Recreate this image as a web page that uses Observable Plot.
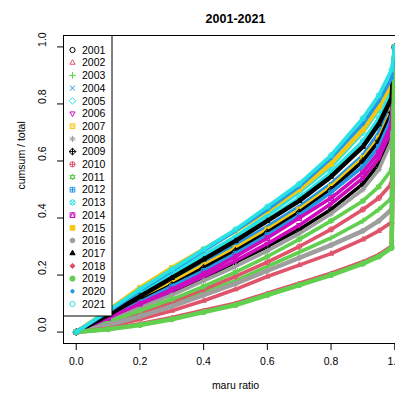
<!DOCTYPE html>
<html><head><meta charset="utf-8">
<script src="https://cdn.jsdelivr.net/npm/d3@7"></script>
<script src="https://cdn.jsdelivr.net/npm/@observablehq/plot@0.6"></script>
<style>
html,body{margin:0;padding:0;background:#fff;overflow:hidden;width:395px;height:395px}
#wrap{position:relative;width:395px;height:395px;overflow:hidden}
#wrap svg{display:block;max-width:none !important}
#legend{position:absolute;left:0;top:0;pointer-events:none}
</style></head><body><div id="wrap"></div>
<script>
// ---- data ----
const titleText = "2001-2021";
const xLabel = "maru ratio";
const yLabel = "cumsum / total";
const xTicks = [0, 0.2, 0.4, 0.6, 0.8, 1.0];
const xTickLabels = ["0.0", "0.2", "0.4", "0.6", "0.8", "1.0"];
const yTicks = [0, 0.2, 0.4, 0.6, 0.8, 1.0];
const yTickLabels = ["0.0", "0.2", "0.4", "0.6", "0.8", "1.0"];
const years = [2001,2002,2003,2004,2005,2006,2007,2008,2009,2010,2011,2012,2013,2014,2015,2016,2017,2018,2019,2020,2021];
const xGrid = [0, 0.1, 0.2, 0.3, 0.4, 0.5, 0.6, 0.7, 0.8, 0.9, 0.95, 0.99, 1.0];
const y2001 = [0, .045, .09, .14, .19, .245, .30, .36, .43, .52, .59, .69, 1];
const y2002 = [0, .02, .045, .075, .11, .15, .195, .235, .275, .325, .355, .385, 1];
const y2003 = [0, .03, .06, .10, .14, .18, .23, .28, .33, .39, .43, .47, 1];
const y2004 = [0, .06, .12, .18, .24, .305, .37, .44, .52, .62, .70, .80, 1];
const y2005 = [0, .07, .14, .205, .27, .335, .41, .49, .58, .70, .78, .86, 1];
const y2006 = [0, .045, .095, .145, .195, .25, .31, .375, .45, .54, .61, .71, 1];
const y2007 = [0, .055, .115, .175, .235, .295, .36, .43, .51, .61, .68, .78, 1];
const y2008 = [0, .04, .085, .13, .18, .23, .285, .345, .415, .50, .57, .67, 1];
const y2009 = [0, .055, .11, .165, .225, .285, .35, .42, .50, .60, .67, .77, 1];
const y2010 = [0, .03, .065, .105, .15, .195, .245, .30, .36, .43, .47, .52, 1];
const y2011 = [0, .035, .075, .115, .16, .21, .265, .325, .39, .46, .51, .57, 1];
const y2012 = [0, .05, .105, .16, .215, .275, .34, .41, .49, .58, .65, .75, 1];
const y2013 = [0, .065, .13, .195, .26, .325, .395, .47, .56, .67, .75, .84, 1];
const y2014 = [0, .05, .10, .15, .205, .265, .33, .40, .47, .56, .63, .73, 1];
const y2015 = [0, .075, .155, .225, .29, .355, .425, .50, .59, .71, .79, .87, 1];
const y2016 = [0, .025, .055, .09, .13, .17, .215, .26, .305, .355, .39, .43, 1];
const y2017 = [0, .06, .125, .19, .255, .32, .39, .46, .545, .65, .73, .82, 1];
const y2018 = [0, .012, .028, .05, .075, .10, .135, .17, .205, .245, .27, .30, 1];
const y2019 = [0, .01, .025, .045, .07, .095, .13, .165, .20, .24, .265, .295, 1];
const y2020 = [0, .07, .145, .215, .285, .355, .43, .51, .61, .73, .81, .89, 1];
const y2021 = [0, .075, .15, .22, .29, .36, .44, .52, .62, .75, .83, .92, 1];
const seriesY = [y2001,y2002,y2003,y2004,y2005,y2006,y2007,y2008,y2009,y2010,y2011,y2012,y2013,y2014,y2015,y2016,y2017,y2018,y2019,y2020,y2021];

// ---- styles ----
const palette = ["#000000","#DF536B","#61D04F","#2297E6","#28E2E5","#CD0BBC","#F5C710","#9E9E9E"];
const colorOf = i => palette[i % 8];
const FONT = "'Liberation Sans', Arial, Helvetica, sans-serif";

// R pch shapes (1..21) as path drawers, r = nominal radius
const T = Math.PI * 2;
function circ(c, r){ c.moveTo(r, 0); c.arc(0, 0, r, 0, T); }
function sq(c, s){ c.moveTo(-s,-s); c.lineTo(s,-s); c.lineTo(s,s); c.lineTo(-s,s); c.closePath(); }
function plus(c, s){ c.moveTo(-s,0); c.lineTo(s,0); c.moveTo(0,-s); c.lineTo(0,s); }
function cross(c, s){ c.moveTo(-s,-s); c.lineTo(s,s); c.moveTo(s,-s); c.lineTo(-s,s); }
function triUp(c, r){ c.moveTo(0,-r*1.15); c.lineTo(r*1.0, r*0.6); c.lineTo(-r*1.0, r*0.6); c.closePath(); }
function triDn(c, r){ c.moveTo(0, r*1.15); c.lineTo(r*1.0,-r*0.6); c.lineTo(-r*1.0,-r*0.6); c.closePath(); }
function diam(c, s){ c.moveTo(0,-s); c.lineTo(s,0); c.lineTo(0,s); c.lineTo(-s,0); c.closePath(); }
const pchDraw = [
  (c,r)=>circ(c,r),
  (c,r)=>triUp(c,r),
  (c,r)=>plus(c,r*1.3),
  (c,r)=>cross(c,r*0.95),
  (c,r)=>diam(c,r*1.3),
  (c,r)=>triDn(c,r),
  (c,r)=>{sq(c,r*0.9); cross(c,r*0.9);},
  (c,r)=>{plus(c,r*1.2); cross(c,r*0.85);},
  (c,r)=>{diam(c,r*1.3); plus(c,r*1.3);},
  (c,r)=>{circ(c,r); plus(c,r);},
  (c,r)=>{triUp(c,r); triDn(c,r);},
  (c,r)=>{sq(c,r*0.9); plus(c,r*0.9);},
  (c,r)=>{circ(c,r); cross(c,r*0.7);},
  (c,r)=>{sq(c,r*0.9); c.moveTo(0,-r*0.9); c.lineTo(r*0.9,r*0.9); c.lineTo(-r*0.9,r*0.9); c.closePath();},
  (c,r)=>sq(c,r*0.9),
  (c,r)=>circ(c,r*0.9),
  (c,r)=>triUp(c,r),
  (c,r)=>diam(c,r*1.0),
  (c,r)=>circ(c,r),
  (c,r)=>circ(c,r*0.65),
  (c,r)=>circ(c,r)
];
const filledIdx = new Set([14,15,16,17,18,19]);
const symbolOf = i => ({draw(ctx, size){ pchDraw[i](ctx, Math.sqrt(size / Math.PI)); }});
const bandWidth = i => i === 19 ? 3.5 : (filledIdx.has(i) ? 4.5 : 3.6);

// ---- build rows ----
const rows = [];
years.forEach((yr, i) => seriesY[i].forEach((v, j) => rows.push({year: yr, idx: i, x: xGrid[j], y: v})));

const marks = [];
years.forEach((yr, i) => {
  const d = rows.filter(r => r.year === yr);
  marks.push(Plot.line(d, {x: "x", y: "y", stroke: colorOf(i), strokeWidth: bandWidth(i), strokeLinejoin: "round", strokeLinecap: "round"}));
  const filled = filledIdx.has(i);
  marks.push(Plot.dot(d, {x: "x", y: "y", r: 2.6, symbol: symbolOf(i),
    fill: filled ? colorOf(i) : "none", stroke: colorOf(i), strokeWidth: 1}));
});

const chart = Plot.plot({
  width: 420, height: 395,
  marginLeft: 63, marginRight: 13, marginTop: 35, marginBottom: 52,
  style: {fontFamily: FONT, fontSize: "10.5px", background: "white", color: "black"},
  x: {domain: [-0.04, 1.04]},
  y: {domain: [-0.04, 1.04]},
  marks: [
    ...marks,
    Plot.frame({stroke: "black", strokeWidth: 1}),
    Plot.axisX({ticks: xTicks, tickSize: 7, tickPadding: 7, tickFormat: d => xTickLabels[xTicks.indexOf(d)], fontSize: 10.5, label: null}),
    Plot.axisY({ticks: yTicks, tickSize: 6, tickFormat: () => "", label: null}),
    Plot.text(yTicks, {y: d => d, text: (d, i) => yTickLabels[i], frameAnchor: "left", dx: -20.5, rotate: -90, fontSize: 10.5}),
    Plot.text([yLabel], {frameAnchor: "left", dx: -42, rotate: -90, fontSize: 10.5}),
    Plot.text([xLabel], {frameAnchor: "bottom", dy: 45, fontSize: 10.5}),
    Plot.text([titleText], {frameAnchor: "top", dy: -21, fontSize: 12.5, fontWeight: "bold"})
  ]
});
chart.style.maxWidth = "none";
const wrap = document.getElementById("wrap");
wrap.appendChild(chart);

// ---- legend (top-left, inside the plot box) ----
const lg = d3.select(wrap).append("svg").attr("id", "legend").attr("width", 395).attr("height", 395);
const L = {x0: 63.5, y0: 35.5, w: 48.5, h: 280.5, sx: 72.5, tx: 82, top: 50, step: 12.7};
lg.append("rect").attr("x", L.x0).attr("y", L.y0).attr("width", L.w).attr("height", L.h)
  .attr("fill", "white").attr("stroke", "black").attr("stroke-width", 1);
years.forEach((yr, i) => {
  const cy = L.top + i * L.step;
  const p = d3.path();
  pchDraw[i](p, 2.6);
  const filled = filledIdx.has(i);
  lg.append("path").attr("d", p.toString()).attr("transform", `translate(${L.sx},${cy})`)
    .attr("fill", filled ? colorOf(i) : "none").attr("stroke", colorOf(i)).attr("stroke-width", 1);
  lg.append("text").attr("x", L.tx).attr("y", cy).attr("dy", "0.36em")
    .attr("font-family", FONT).attr("font-size", "10.5px").attr("fill", "black").text(String(yr));
});
</script></body></html>
